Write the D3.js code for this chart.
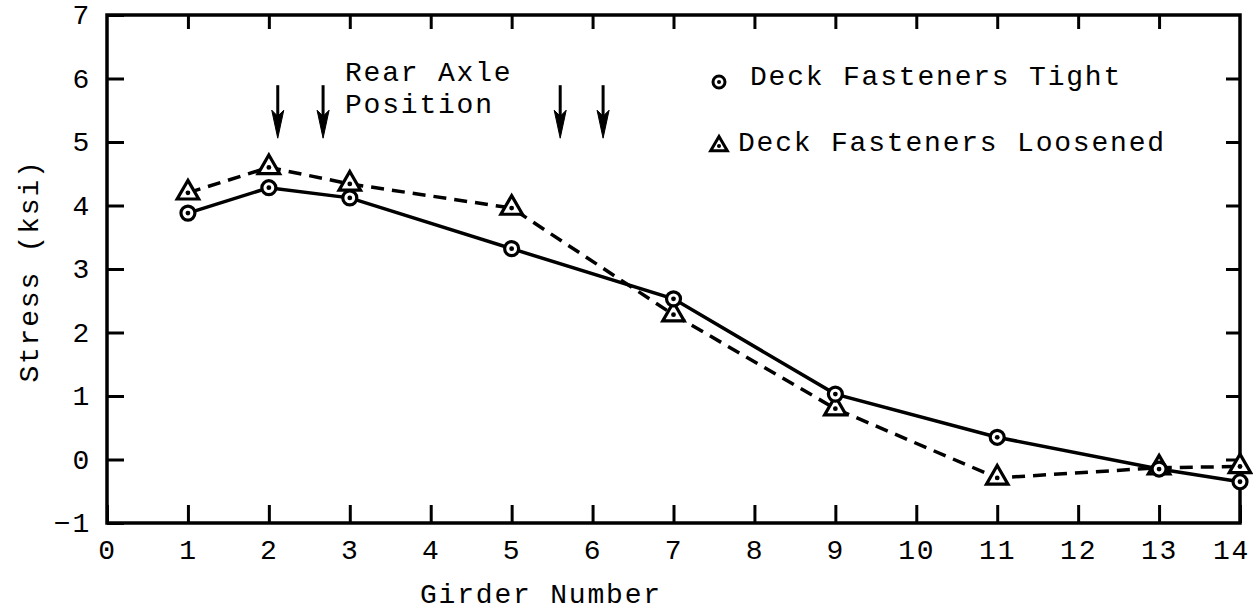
<!DOCTYPE html>
<html>
<head>
<meta charset="utf-8">
<script src="https://cdn.jsdelivr.net/npm/d3@7/dist/d3.min.js"></script>
<style>
   body { margin: 0; background: #fff; }
   svg text { font-family: "Liberation Mono", "DejaVu Sans Mono", monospace; font-size: 28px; fill: #000; letter-spacing: 1.8px; }
</style>
</head>
<body>
<div id="container"></div>
<script>
// girder positions and measured stresses (ksi)
const girders = [1, 2, 3, 5, 7, 9, 11, 13, 14];
const tight = [3.88, 4.28, 4.12, 3.32, 2.53, 1.03, 0.35, -0.15, -0.35];
const loosened = [4.2, 4.6, 4.34, 3.96, 2.28, 0.8, -0.29, -0.13, -0.11];
// rear axle positions marked by arrows
const axlePositions = [2.11, 2.67, 5.6, 6.13];
const xTicks = d3.range(0, 15);
const yTicks = d3.range(-1, 8);

const w = 1253;
const h = 612;
const margin = { left: 107, right: 13, top: 15, bottom: 89 };

const svg = d3.select('#container')
   .append('svg')
   .attr('width', w)
   .attr('height', h);

const x = d3.scaleLinear().domain([0, 14]).range([margin.left, w - margin.right]);
const y = d3.scaleLinear().domain([-1, 7]).range([h - margin.bottom, margin.top]);

// axes with inward ticks
const styleAxis = g => {
   g.attr('font-size', null).attr('font-family', null);
   g.select('.domain').remove();
   g.selectAll('line').attr('stroke', '#000').attr('stroke-width', 3);
   g.selectAll('text').attr('fill', '#000');
};

const bottom = svg.append('g')
   .attr('transform', 'translate(0,' + y(-1) + ')')
   .call(d3.axisBottom(x).tickValues(xTicks).tickSizeInner(-18).tickSizeOuter(0).tickPadding(16))
   .call(styleAxis);
bottom.selectAll('text').filter(d => d === 14).attr('dx', -9);

svg.append('g')
   .attr('transform', 'translate(' + x(0) + ',0)')
   .call(d3.axisLeft(y).tickValues(yTicks).tickSizeInner(-17).tickSizeOuter(0).tickPadding(16))
   .call(styleAxis);

svg.append('g')
   .attr('transform', 'translate(0,' + y(7) + ')')
   .call(d3.axisTop(x).tickValues(xTicks.slice(1, -1)).tickSizeInner(-14).tickSizeOuter(0).tickFormat(''))
   .call(styleAxis);

svg.append('g')
   .attr('transform', 'translate(' + x(14) + ',0)')
   .call(d3.axisRight(y).tickValues(yTicks.slice(1, -1)).tickSizeInner(-14).tickSizeOuter(0).tickFormat(''))
   .call(styleAxis);

// frame
svg.append('rect')
   .attr('x', x(0))
   .attr('y', y(7))
   .attr('width', x(14) - x(0))
   .attr('height', y(-1) - y(7))
   .attr('fill', 'none')
   .attr('stroke', '#000')
   .attr('stroke-width', 3.5);

// axis titles
svg.append('text')
   .attr('transform', 'translate(38,271) rotate(-90)')
   .attr('text-anchor', 'middle')
   .text('Stress (ksi)');

svg.append('text')
   .attr('x', 420)
   .attr('y', 603)
   .text('Girder Number');

// series lines
const tightData = girders.map((g, i) => [g, tight[i]]);
const looseData = girders.map((g, i) => [g, loosened[i]]);
const line = d3.line().x(d => x(d[0])).y(d => y(d[1]));

svg.append('path')
   .datum(looseData)
   .attr('d', line)
   .attr('fill', 'none')
   .attr('stroke', '#000')
   .attr('stroke-width', 3.5)
   .attr('stroke-dasharray', '13,8');

svg.append('path')
   .datum(tightData)
   .attr('d', line)
   .attr('fill', 'none')
   .attr('stroke', '#000')
   .attr('stroke-width', 3.5);

// markers
const tri = d3.symbol().type(d3.symbolTriangle).size(200);
const triSmall = d3.symbol().type(d3.symbolTriangle).size(120);

const triG = svg.selectAll('.tri')
   .data(looseData)
   .enter()
   .append('g')
   .attr('class', 'tri')
   .attr('transform', d => 'translate(' + x(d[0]) + ',' + y(d[1]) + ')');
triG.append('path').attr('d', tri).attr('fill', '#fff').attr('stroke', '#000').attr('stroke-width', 3.2);
triG.append('circle').attr('r', 2.4).attr('fill', '#000');

const circG = svg.selectAll('.circ')
   .data(tightData)
   .enter()
   .append('g')
   .attr('class', 'circ')
   .attr('transform', d => 'translate(' + x(d[0]) + ',' + y(d[1]) + ')');
circG.append('circle').attr('r', 7).attr('fill', '#fff').attr('stroke', '#000').attr('stroke-width', 3.2);
circG.append('circle').attr('r', 2.4).attr('fill', '#000');

// rear axle arrows
const arrows = svg.selectAll('.arrow')
   .data(axlePositions)
   .enter()
   .append('g')
   .attr('class', 'arrow')
   .attr('transform', d => 'translate(' + x(d) + ',' + y(5.06) + ')');
arrows.append('line')
   .attr('x1', 0).attr('x2', 0)
   .attr('y1', -53).attr('y2', -20)
   .attr('stroke', '#000')
   .attr('stroke-width', 3);
arrows.append('path')
   .attr('d', 'M0,0 L-6,-28 L0,-22 L6,-28 Z')
   .attr('fill', '#000')
   .attr('stroke', '#000')
   .attr('stroke-width', 1);

svg.append('text').attr('x', 345).attr('y', 81).text('Rear Axle');
svg.append('text').attr('x', 345).attr('y', 113).text('Position');

// legend
const legend = svg.append('g');
const lc = legend.append('g').attr('transform', 'translate(719,82)');
lc.append('circle').attr('r', 6).attr('fill', '#fff').attr('stroke', '#000').attr('stroke-width', 3);
lc.append('circle').attr('r', 2).attr('fill', '#000');
legend.append('text').attr('x', 750).attr('y', 85).text('Deck Fasteners Tight');

const lt = legend.append('g').attr('transform', 'translate(719,146)');
lt.append('path').attr('d', triSmall).attr('fill', '#fff').attr('stroke', '#000').attr('stroke-width', 3);
lt.append('circle').attr('r', 2).attr('fill', '#000');
legend.append('text').attr('x', 738).attr('y', 151).text('Deck Fasteners Loosened');
</script>
</body>
</html>
